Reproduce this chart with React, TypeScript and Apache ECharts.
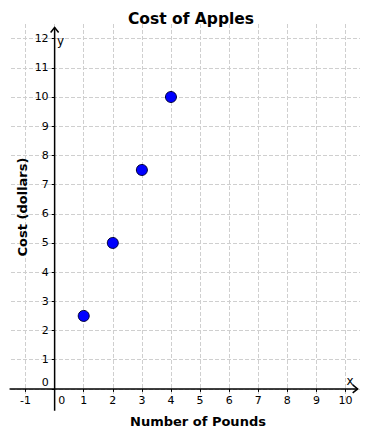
import React, { useEffect, useRef } from "react";
import * as echarts from "echarts";

const titleText = "Cost of Apples";
const xAxisTitle = "Number of Pounds";
const yAxisTitle = "Cost (dollars)";
const pounds = [1, 2, 3, 4];
const costs = [2.5, 5, 7.5, 10];
const xTicks = [-1, 0, 1, 2, 3, 4, 5, 6, 7, 8, 9, 10];
const yTicks = [0, 1, 2, 3, 4, 5, 6, 7, 8, 9, 10, 11, 12];

const FONT = "DejaVu Sans";

export default function App() {
  const ref = useRef<HTMLDivElement>(null);
  useEffect(() => {
    if (!ref.current) return;
    const chart = echarts.init(ref.current, null, { renderer: "svg" });
    const split = {
      show: true,
      lineStyle: { color: "#cfcfcf", width: 1, type: [4, 2] as any },
    };
    const GRID = { left: 11, right: 10, top: 24, bottom: 37.5 };
    chart.setOption({
      animation: false,
      backgroundColor: "#ffffff",
      grid: {
        ...GRID,
        containLabel: false,
        outerBoundsMode: "none",
      },
      xAxis: {
        type: "value",
        position: "bottom",
        offset: 0,
        min: -1.5,
        max: 10.5,
        interval: 0.5,
        splitLine: split,
        axisLine: { show: false, onZero: false },
        axisTick: { show: true, length: 3, customValues: xTicks, lineStyle: { color: "#000" } },
        axisLabel: {
          customValues: xTicks,
          margin: 6,
          hideOverlap: false,
          fontFamily: FONT,
          fontSize: 11,
          color: "#000",
          formatter: (v: number) =>
            Number.isInteger(v) ? (v === 0 ? "{z|0}" : String(v)) : "",
          rich: { z: { padding: [0, 0, 0, 14], fontFamily: FONT, fontSize: 11, color: "#000" } },
        },
      },
      yAxis: {
        type: "value",
        position: "left",
        offset: 0,
        min: -0.5,
        max: 12.5,
        interval: 0.5,
        splitLine: split,
        axisLine: { show: false, onZero: false },
        axisTick: { show: true, length: 3, customValues: yTicks, lineStyle: { color: "#000" } },
        axisLabel: {
          customValues: yTicks,
          margin: 6,
          hideOverlap: false,
          fontFamily: FONT,
          fontSize: 11,
          color: "#000",
          formatter: (v: number) =>
            Number.isInteger(v) ? (v === 0 ? "{z|0}" : String(v)) : "",
          rich: { z: { padding: [0, 0, 12, 0], fontFamily: FONT, fontSize: 11, color: "#000" } },
        },
      },
      series: [
        {
          type: "scatter",
          data: pounds.map((p, i) => [p, costs[i]]),
          symbol: "circle",
          symbolSize: 11,
          itemStyle: { color: "#0000ff", borderColor: "#000033", borderWidth: 1, opacity: 1 },
          z: 5,
        },
      ],
    });
    // Move both axes onto the zero lines, using the chart's own scales.
    const px = (x: number, y: number) =>
      chart.convertToPixel({ gridIndex: 0 }, [x, y]) as number[];
    const origin = px(0, 0);
    const h = 441;
    const xOffset = -(h - GRID.bottom - origin[1]);
    const yOffset = -(origin[0] - GRID.left);
    const yBottom = px(0, -0.75);
    const yTop = px(0, 12.38);
    const xLeft = px(-1.55, 0);
    const xRight = px(10.42, 0);
    const axisStyle = { stroke: "#000", lineWidth: 1.5, fill: "none" };
    chart.setOption({
      xAxis: { offset: xOffset },
      yAxis: { offset: yOffset },
      graphic: [
        {
          type: "line",
          z: 4,
          shape: { x1: yBottom[0], y1: yBottom[1], x2: yTop[0], y2: yTop[1] },
          style: axisStyle,
        },
        {
          type: "polyline",
          z: 4,
          shape: {
            points: [
              [yTop[0] - 4, yTop[1] + 5],
              [yTop[0], yTop[1]],
              [yTop[0] + 4, yTop[1] + 5],
            ],
          },
          style: axisStyle,
        },
        {
          type: "line",
          z: 4,
          shape: { x1: xLeft[0], y1: xLeft[1], x2: xRight[0], y2: xRight[1] },
          style: axisStyle,
        },
        {
          type: "polyline",
          z: 4,
          shape: {
            points: [
              [xRight[0] - 5, xRight[1] - 4],
              [xRight[0], xRight[1]],
              [xRight[0] - 5, xRight[1] + 4],
            ],
          },
          style: axisStyle,
        },
        {
          type: "text",
          x: 191,
          y: 19,
          style: {
            text: titleText,
            font: `bold 15.5px "${FONT}"`,
            fill: "#000",
            textAlign: "center",
            textVerticalAlign: "middle",
          },
        },
        {
          type: "text",
          x: 198,
          y: 421,
          style: {
            text: xAxisTitle,
            font: `bold 13px "${FONT}"`,
            fill: "#000",
            textAlign: "center",
            textVerticalAlign: "middle",
          },
        },
        {
          type: "text",
          x: 22,
          y: 207,
          rotation: Math.PI / 2,
          style: {
            text: yAxisTitle,
            font: `bold 13px "${FONT}"`,
            fill: "#000",
            textAlign: "center",
            textVerticalAlign: "middle",
          },
        },
        {
          type: "text",
          x: yTop[0] + 6,
          y: 41,
          style: { text: "y", font: `12px "${FONT}"`, fill: "#000", textAlign: "center", textVerticalAlign: "middle" },
        },
        {
          type: "text",
          x: 350,
          y: origin[1] - 8,
          style: { text: "x", font: `12px "${FONT}"`, fill: "#000", textAlign: "center", textVerticalAlign: "middle" },
        },
      ],
    });
    return () => chart.dispose();
  }, []);
  return (
    <div
      ref={ref}
      style={{ position: "fixed", left: 0, top: 0, width: 370, height: 441, background: "#fff" }}
    />
  );
}
